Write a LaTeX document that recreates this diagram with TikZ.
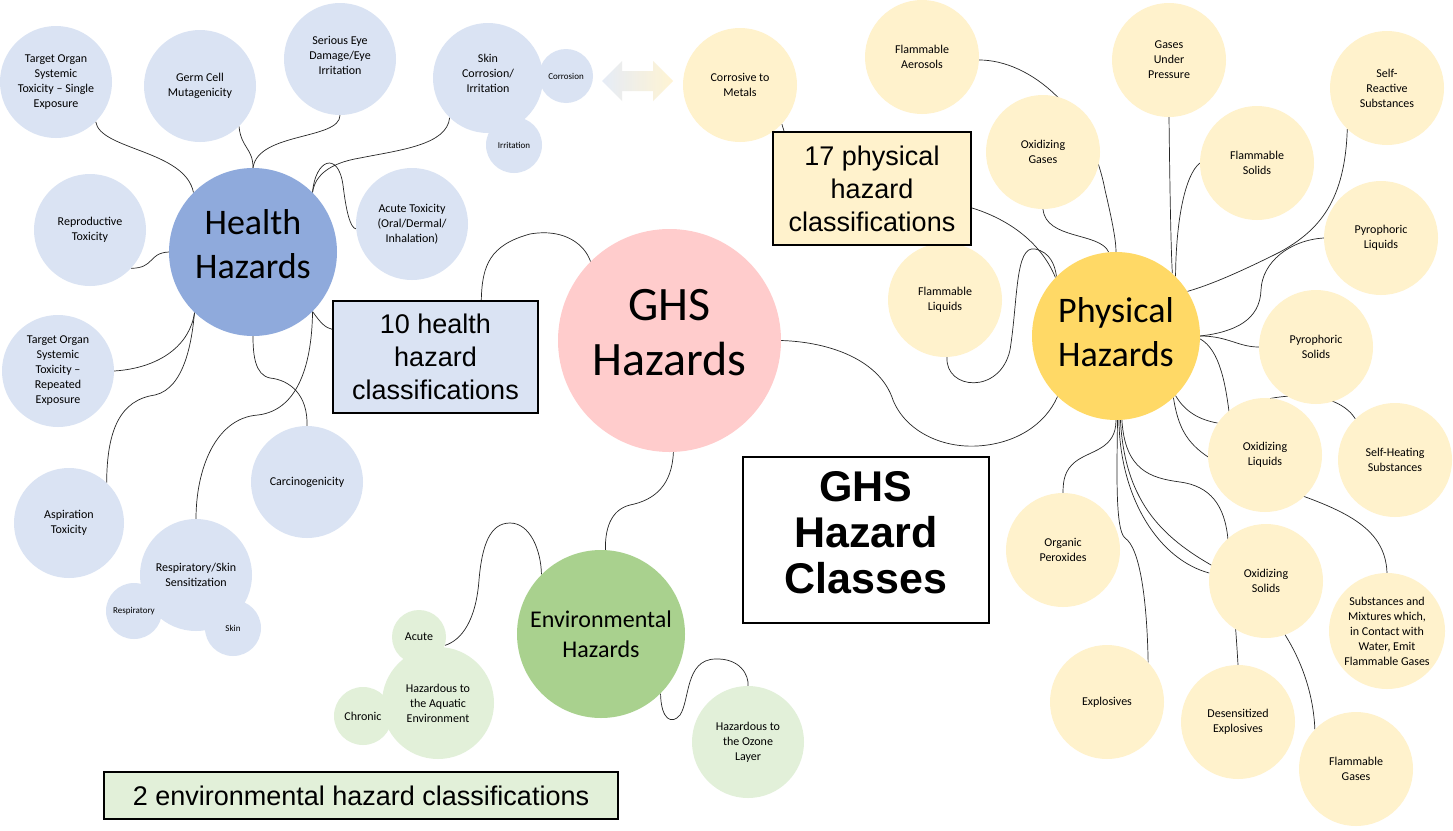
\documentclass[tikz,border=0pt]{standalone}
\usepackage{fontspec}
\setmainfont{Carlito}
\newfontfamily\arialfont{Liberation Sans}

\definecolor{hlight}{HTML}{DAE3F3}
\definecolor{hdark}{HTML}{8FAADC}
\definecolor{ghspink}{HTML}{FFCCCC}
\definecolor{plight}{HTML}{FFF2CC}
\definecolor{pdark}{HTML}{FFD966}
\definecolor{elight}{HTML}{E2F0D9}
\definecolor{edark}{HTML}{A9D18E}

\pgfdeclarelayer{bg}
\pgfsetlayers{bg,main}

\tikzset{
  bubble/.style={circle, inner sep=0pt, align=center, font=\fontsize{12}{15}\selectfont},
  hbub/.style={bubble, fill=hlight, minimum size=112pt},
  pbub/.style={bubble, fill=plight, minimum size=114pt},
  ebub/.style={bubble, fill=elight, minimum size=112pt},
  minibub/.style={minimum size=#1, font=\fontsize{9}{11}\selectfont},
  hub/.style={bubble, minimum size=168pt, font=\fontsize{36}{44}\selectfont},
  infobox/.style={draw=black, line width=1.1pt, inner sep=0pt, align=center,
    font=\arialfont\fontsize{27}{33}\selectfont},
  link/.style={draw=black!85, line width=0.7pt},
}

\begin{document}
\begin{tikzpicture}[x=1pt, y=-1pt]

  % page is 1453 x 830, y runs downwards
  \useasboundingbox (0,0) rectangle (1453,830);
  \begin{pgfonlayer}{bg}
    \fill[white] (0,0) rectangle (1453,830);
  \end{pgfonlayer}

  % ---- (1) centre bubble ----
  \node[hub, fill=ghspink, minimum size=223pt, font=\fontsize{48}{55}\selectfont,
    text depth=16pt] (ghs) at (669.5,340.5) {GHS\\Hazards};

  % ---- (2) health hazards (blue) ----
  \node[hub, fill=hdark, text depth=16pt] (hh) at (253,252) {Health\\Hazards};
  \node[hbub] (tsingle) at (56,82)  {Target Organ\\Systemic\\Toxicity – Single\\Exposure};
  \node[hbub] (germ)    at (200,86) {Germ Cell\\Mutagenicity};
  \node[hbub, text depth=8pt] (eye) at (340,59) {Serious Eye\\Damage/Eye\\Irritation};
  \node[hbub, minimum size=110pt, text depth=10pt] (skin) at (488,78)
    {Skin\\Corrosion/\\Irritation};
  \node[hbub, minibub=54pt] (corr) at (566,76)  {Corrosion};
  \node[hbub, minibub=56pt] (irr)  at (514,145) {Irritation};
  \node[hbub] (acute)   at (412,224) {Acute Toxicity\\(Oral/Dermal/\\Inhalation)};
  \node[hbub] (repro)   at (90,230)  {Reproductive\\Toxicity};
  \node[hbub] (trep)    at (58,371)  {Target Organ\\Systemic\\Toxicity –\\Repeated\\Exposure};
  \node[hbub, minimum size=110pt] (asp) at (69,523) {Aspiration\\Toxicity};
  \node[hbub] (carc)    at (307,482) {Carcinogenicity};
  \node[hbub] (resp)    at (196,575) {Respiratory/Skin\\Sensitization};
  \node[hbub, minibub=56pt] (respi) at (134,611) {Respiratory};
  \node[hbub, minibub=56pt] (skn)   at (233,628) {Skin};

  \node[infobox, fill=hlight, minimum width=205pt, minimum height=112pt]
    (hbox) at (435.5,357) {10 health\\hazard\\classifications};

  % ---- (3) physical hazards (yellow) ----
  \node[hub, fill=pdark, text depth=8pt] (phys) at (1116,336) {Physical\\Hazards};
  \node[pbub] (metals) at (740,85)   {Corrosive to\\Metals};
  \node[pbub] (aer)    at (922,57)   {Flammable\\Aerosols};
  \node[pbub] (oxg)    at (1043,152) {Oxidizing\\Gases};
  \node[pbub] (gup)    at (1169,60)  {Gases\\Under\\Pressure};
  \node[pbub] (fsol)   at (1257,163) {Flammable\\Solids};
  \node[pbub] (selfr)  at (1387,88)  {Self-\\Reactive\\Substances};
  \node[pbub] (pyl)    at (1381,238) {Pyrophoric\\Liquids};
  \node[pbub] (fliq)   at (945,300)  {Flammable\\Liquids};
  \node[pbub] (pys)    at (1316,347) {Pyrophoric\\Solids};
  \node[pbub] (oxl)    at (1265,455) {Oxidizing\\Liquids};
  \node[pbub] (selfh)  at (1395,460) {Self-Heating\\Substances};
  \node[pbub] (orgp)   at (1063,550) {Organic\\Peroxides};
  \node[pbub] (oxs)    at (1266,581) {Oxidizing\\Solids};
  \node[pbub, minimum size=116pt] (subst) at (1387,631)
    {Substances and\\Mixtures which,\\in Contact with\\Water, Emit\\Flammable Gases};
  \node[pbub] (expl)   at (1107,702) {Explosives};
  \node[pbub] (desens) at (1238,722) {Desensitized\\Explosives};
  \node[pbub] (fgas)   at (1356,769) {Flammable\\Gases};

  \node[infobox, fill=plight, minimum width=198pt, minimum height=113pt]
    (pbox) at (872,188.5) {17 physical\\hazard\\classifications};

  % shared class: corrosion <-> corrosive to metals
  \shade[left color=hlight!80, right color=plight, opacity=0.85]
    (602,81) -- (622,61) -- (622,71) -- (653,71) -- (653,61) -- (673,81)
    -- (653,101) -- (653,91) -- (622,91) -- (622,101) -- cycle;

  % ---- (4) environmental hazards (green) ----
  \node[hub, fill=edark, font=\fontsize{24}{30}\selectfont] (env) at (601,634)
    {Environmental\\Hazards};
  \node[ebub] (aq)     at (438,703) {Hazardous to\\the Aquatic\\Environment};
  \node[ebub, minimum size=54pt] (acute2) at (419,637) {Acute};
  \node[ebub, minimum size=58pt] (chron)  at (363,716) {Chronic};
  \node[ebub] (ozone)  at (748,742) {Hazardous to\\the Ozone\\Layer};

  \node[infobox, fill=elight, minimum width=514pt, minimum height=47pt]
    (ebox) at (361,795.5) {2 environmental hazard classifications};

  % ---- (5) title box ----
  \node[draw=black, line width=1.1pt, fill=white, minimum width=246pt,
    minimum height=166pt] (cbox) at (866,540) {};
  \node[font=\arialfont\bfseries\fontsize{43}{46}\selectfont, align=center]
    (ctitle) at (866,533) {GHS\\Hazard\\Classes};

  % ---- (6) connectors, behind the bubbles ----
  \begin{pgfonlayer}{bg}
    % health
    \path[link] (tsingle.-45) .. controls (100,150) and (185,150) .. (hh.135);
    \path[link] (germ.-46) .. controls (241,148) and (253,148) .. (hh.90);
    \path[link] (eye.-90) .. controls (340,140) and (258,132) .. (hh.90);
    \path[link] (skin.-134) .. controls (447,145) and (400,150) .. (360,158)
      .. controls (330,163) and (315,175) .. (hh.45);
    \path[link] (hh.45) .. controls (315,160) and (338,150) .. (343,185)
      .. controls (346,210) and (350,228) .. (acute.185);
    \path[link] (repro.-43) .. controls (155,268) and (148,253) .. (hh.180);
    \path[link] (trep.0) .. controls (160,368) and (190,345) .. (hh.-134);
    \path[link] (asp.47) .. controls (107,430) and (120,400) .. (155,395)
      .. controls (185,388) and (192,340) .. (hh.-134);
    \path[link] (carc.90) .. controls (308,395) and (290,380) .. (270,378)
      .. controls (255,375) and (253,355) .. (hh.-90);
    \path[link] (resp.90) .. controls (196,470) and (215,418) .. (258,415)
      .. controls (300,410) and (312,360) .. (hh.-45);
    \path[link] (hh.-45) .. controls (320,322) and (325,328) .. (hbox.165);
    \path[link] (hbox.51) .. controls (482,265) and (490,245) .. (530,234)
      .. controls (565,228) and (585,245) .. (ghs.135);

    % centre to the other hubs
    \path[link] (ghs.-88) .. controls (672,485) and (655,500) .. (630,505)
      .. controls (610,510) and (605,530) .. (env.87);
    \path[link] (ghs.0) .. controls (830,342) and (880,360) .. (893,400)
      .. controls (905,430) and (940,448) .. (977,446)
      .. controls (1015,444) and (1045,425) .. (phys.-134);

    % environmental
    \path[link] (env.135) .. controls (541,550) and (530,523) .. (510,523)
      .. controls (490,523) and (482,545) .. (479,580)
      .. controls (476,620) and (462,640) .. (acute2.-18);
    \path[link] (env.-45) .. controls (661,720) and (672,725) .. (680,715)
      .. controls (690,700) and (685,660) .. (715,659)
      .. controls (740,658) and (749,675) .. (ozone.90);

    % physical, upper side
    \path[link] (metals.-43) -- (pbox.147);
    \path[link] (pbox.-11) .. controls (1005,218) and (1040,240) .. (phys.136);
    \path[link] (fliq.-88) .. controls (945,390) and (1000,395) .. (1010,350)
      .. controls (1018,300) and (1015,245) .. (1035,249)
      .. controls (1050,252) and (1055,265) .. (phys.135);
    \path[link] (aer.-3) .. controls (1030,60) and (1090,110) .. (1105,190)
      .. controls (1112,220) and (1116,240) .. (phys.90);
    \path[link] (oxg.-90) .. controls (1046,240) and (1100,232) .. (phys.95);
    \path[link] (gup.-90) .. controls (1170,200) and (1171,250) .. (phys.48);
    \path[link] (fsol.180) .. controls (1185,175) and (1176,220) .. (phys.45);
    \path[link] (selfr.-134) .. controls (1345,200) and (1320,230) .. (1280,252)
      .. controls (1240,272) and (1210,285) .. (phys.32);
    \path[link] (pyl.180) .. controls (1290,240) and (1262,262) .. (1261,290)
      .. controls (1260,320) and (1235,332) .. (phys.0);
    \path[link] (pys.180) .. controls (1238,347) and (1228,336) .. (phys.0);

    % physical, right and lower side
    \path[link] (phys.-2) .. controls (1220,350) and (1226,385) .. (1230,420)
      .. controls (1240,405) and (1262,398) .. (1290,396)
      .. controls (1320,394) and (1345,402) .. (selfh.134);
    \path[link] (phys.-45) .. controls (1185,412) and (1200,420) .. (oxl.146);
    \path[link] (phys.-47) .. controls (1180,440) and (1195,455) .. (1250,478)
      .. controls (1330,505) and (1385,520) .. (subst.90);
    \path[link] (phys.-90) .. controls (1116,450) and (1090,450) .. (1075,462)
      .. controls (1065,470) and (1063,480) .. (orgp.90);
    \path[link] (phys.-89) .. controls (1117,470) and (1115,530) .. (1125,538)
      .. controls (1140,548) and (1147,600) .. (expl.44);
    \path[link] (phys.-88) .. controls (1120,500) and (1160,560) .. (oxs.172);
    \path[link] (phys.-87) .. controls (1125,505) and (1165,540) .. (1220,570)
      .. controls (1270,600) and (1312,660) .. (fgas.136);
    \path[link] (phys.-86) .. controls (1125,470) and (1150,478) .. (1180,482)
      .. controls (1210,486) and (1225,505) .. (1228,540)
      .. controls (1232,580) and (1236,630) .. (desens.90);
  \end{pgfonlayer}

\end{tikzpicture}
\end{document}
